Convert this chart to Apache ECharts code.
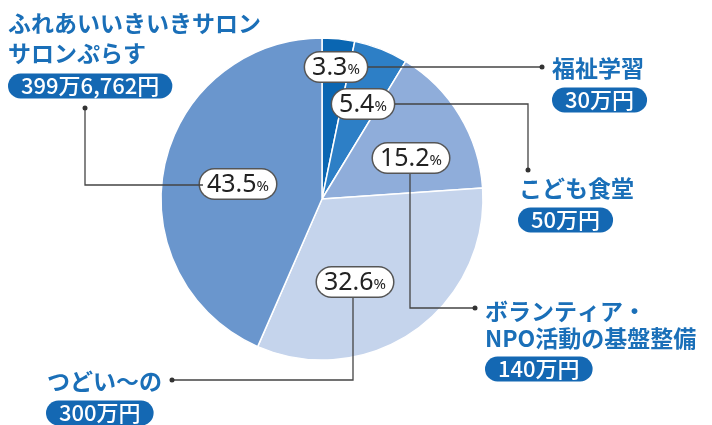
<!DOCTYPE html>
<html>
<head>
<meta charset="utf-8">
<script src="https://cdn.jsdelivr.net/npm/echarts@6/dist/echarts.min.js"></script>
<style>
  html, body { margin: 0; padding: 0; background: #fff; }
  #chart { width: 712px; height: 425px; }
</style>
</head>
<body>
<div id="chart"></div>
<script>
// 助成先と金額（円）
const categories = ["福祉学習", "こども食堂", "ボランティア・NPO活動の基盤整備", "つどい〜の", "ふれあいいきいきサロン サロンぷらす"];
const amounts = [300000, 500000, 1400000, 3000000, 3996762];
const amountLabels = ["30万円", "50万円", "140万円", "300万円", "399万6,762円"];

// 色
const colors = ["#0a66b2", "#2d7fc6", "#8fadda", "#c5d4ec", "#6a96cd"];
const textBlue = "#1a6fb8";
const pillBlue = "#1468b3";
const lineColor = "#444";

// パーセント表示の位置
const pctPos = [[336, 67], [363, 104], [411, 158], [355, 282], [238, 184]];

const chart = echarts.init(document.getElementById("chart"));

const titleFont = 'bold 23px "Noto Sans CJK JP"';
const pillFont = '500 22px "Noto Sans CJK JP"';

function title(text, x, y) {
  return {
    type: "text", z: 20,
    style: { text: text, x: x, y: y, fill: textBlue, font: titleFont, verticalAlign: "middle", textVerticalAlign: "middle" }
  };
}
function pill(text, x, y) {
  return {
    type: "text", z: 20,
    style: {
      text: text, x: x, y: y, fill: "#fff", font: pillFont,
      verticalAlign: "middle", textVerticalAlign: "middle",
      backgroundColor: pillBlue, borderRadius: 13, padding: [2, 13, 1, 13]
    }
  };
}
function leader(points) {
  const end = points[points.length - 1];
  return [
    { type: "polyline", z: 10, shape: { points: points }, style: { stroke: lineColor, lineWidth: 1.3, fill: null } },
    { type: "circle", z: 10, shape: { cx: end[0], cy: end[1], r: 2.5 }, style: { fill: "#333" } }
  ];
}

const graphics = [
  ...leader([[368, 67], [542, 67]]),
  ...leader([[395, 104], [528, 104], [528, 170]]),
  ...leader([[410, 174], [410, 308], [475, 308]]),
  ...leader([[353, 298], [353, 380], [172, 380]]),
  ...leader([[203, 185], [85, 185], [85, 108]]),

  title("ふれあいいきいきサロン", 8, 23),
  title("サロンぷらす", 8, 53),
  pill(amountLabels[4], 8, 86),

  title("福祉学習", 552, 68),
  pill(amountLabels[0], 552, 100),

  title("こども食堂", 519, 188),
  pill(amountLabels[1], 518, 220),

  title("ボランティア・", 485, 311),
  title("NPO活動の基盤整備", 485, 338),
  pill(amountLabels[2], 485, 369),

  title("つどい〜の", 47, 381),
  pill(amountLabels[3], 46, 413)
];

chart.setOption({
  animation: false,
  graphic: graphics,
  series: [
    {
      type: "pie",
      z: 2,
      center: [322, 199],
      radius: [0, 161],
      startAngle: 90,
      clockwise: true,
      percentPrecision: 1,
      itemStyle: { borderColor: "#fff", borderWidth: 1.5 },
      label: {
        show: true,
        position: "inside",
        formatter: (p) => "{n|" + p.percent.toFixed(1) + "}{p|%}",
        backgroundColor: "#fff",
        borderColor: "#555",
        borderWidth: 1.5,
        borderRadius: 15,
        padding: [1, 7, 0, 7],
        rich: {
          n: { fontSize: 25, color: "#222", fontFamily: "Noto Sans", lineHeight: 28 },
          p: { fontSize: 15, color: "#222", fontFamily: "Noto Sans", lineHeight: 28, padding: [4, 0, 0, 0] }
        }
      },
      labelLine: { show: false },
      labelLayout: (params) => ({
        x: pctPos[params.dataIndex][0],
        y: pctPos[params.dataIndex][1],
        align: "center",
        verticalAlign: "middle"
      }),
      emphasis: { disabled: true },
      data: categories.map((name, i) => ({
        name: name,
        value: amounts[i],
        itemStyle: { color: colors[i] }
      }))
    }
  ]
});
</script>
</body>
</html>
